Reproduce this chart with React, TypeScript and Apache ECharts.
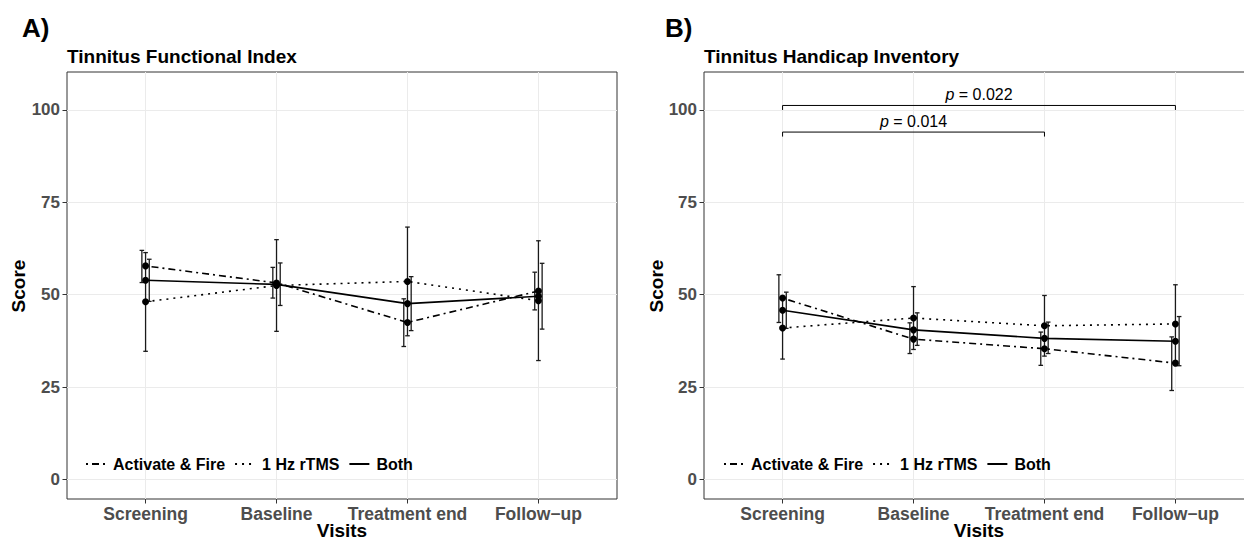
import React, { useEffect, useRef } from 'react';
import * as echarts from 'echarts';

const visits = ['Screening', 'Baseline', 'Treatment end', 'Follow\u2212up'];
const groups = ['Activate & Fire', '1 Hz rTMS', 'Both'];
const yTicks = [0, 25, 50, 75, 100];
const xTicks = [0, 1, 2, 3];

// Panel A: Tinnitus Functional Index (mean, lower, upper)
const tfiAF = [57.8, 53.2, 42.5, 51.0];
const tfiAFLow = [53.3, 49.1, 36.0, 45.9];
const tfiAFHigh = [62.0, 57.4, 48.9, 56.1];
const tfiHz = [48.1, 52.5, 53.6, 48.4];
const tfiHzLow = [34.7, 40.1, 38.9, 32.2];
const tfiHzHigh = [61.4, 64.9, 68.3, 64.6];
const tfiBoth = [53.9, 52.8, 47.6, 49.6];
const tfiBothLow = [48.2, 47.1, 40.3, 40.7];
const tfiBothHigh = [59.6, 58.6, 54.9, 58.5];

// Panel B: Tinnitus Handicap Inventory
const thiAF = [49.1, 38.0, 35.4, 31.5];
const thiAFLow = [42.5, 34.1, 30.9, 24.1];
const thiAFHigh = [55.4, 42.4, 39.9, 38.6];
const thiHz = [41.0, 43.7, 41.6, 42.1];
const thiHzLow = [32.6, 35.2, 33.4, 31.5];
const thiHzHigh = [49.4, 52.2, 49.8, 52.7];
const thiBoth = [45.8, 40.5, 38.2, 37.4];
const thiBothLow = [40.9, 36.3, 34.1, 30.8];
const thiBothHigh = [50.7, 45.1, 42.6, 44.1];

// Significance brackets (panel B)
const bracketFrom = [0, 0];
const bracketTo = [3, 2];
const bracketY = [101.2, 94.0];
const bracketP = ['0.022', '0.014'];

const FONT = '"Liberation Sans", Arial, Helvetica, sans-serif';
const dashTypes: any[] = [[2, 4, 7, 4], [2, 5], 'solid'];

export default function App() {
  const ref = useRef<HTMLDivElement>(null);
  useEffect(() => {
    document.body.style.margin = '0';
    document.body.style.overflow = 'hidden';
    const chart = echarts.init(ref.current!, null, { renderer: 'svg' });

    const panels = [
      { means: [tfiAF, tfiHz, tfiBoth], lows: [tfiAFLow, tfiHzLow, tfiBothLow], highs: [tfiAFHigh, tfiHzHigh, tfiBothHigh] },
      { means: [thiAF, thiHz, thiBoth], lows: [thiAFLow, thiHzLow, thiBothLow], highs: [thiAFHigh, thiHzHigh, thiBothHigh] },
    ];
    const gridLefts = [67, 704];

    const grid = gridLefts.map((l) => ({
      left: l, top: 72, width: 550, height: 427,
      outerBoundsMode: 'none', containLabel: false,
      show: true, borderColor: '#333333', borderWidth: 1, backgroundColor: '#ffffff',
    }));

    const xAxis = gridLefts.map((_, i) => ({
      type: 'value', gridIndex: i, min: -0.6, max: 3.6, position: 'bottom',
      axisLine: { show: false, onZero: false },
      axisTick: { show: true, length: 4.5, lineStyle: { color: '#333333', width: 1 }, customValues: xTicks },
      axisLabel: {
        customValues: xTicks, margin: 6,
        formatter: (v: number) => visits[Math.round(v)] ?? '',
        color: '#4d4d4d', fontWeight: 'bold', fontSize: 17.5, fontFamily: FONT,
      },
      splitLine: { show: true, lineStyle: { color: '#ebebeb', width: 1 } },
    }));

    const yAxis = gridLefts.map((_, i) => ({
      type: 'value', gridIndex: i, min: -5.25, max: 110.25, position: 'left',
      axisLine: { show: false, onZero: false },
      axisTick: { show: true, length: 4.5, lineStyle: { color: '#333333', width: 1 }, customValues: yTicks },
      axisLabel: {
        customValues: yTicks, margin: 7,
        color: '#4d4d4d', fontWeight: 'bold', fontSize: 17, fontFamily: FONT,
      },
      splitLine: { show: true, lineStyle: { color: '#ebebeb', width: 1 } },
    }));

    const series: any[] = [];
    panels.forEach((p, pi) => {
      groups.forEach((g, gi) => {
        series.push({
          type: 'custom', name: 'eb' + pi + gi, xAxisIndex: pi, yAxisIndex: pi, z: 2,
          data: p.means[gi].map((_, i) => [i, p.lows[gi][i], p.highs[gi][i], gi - 1]),
          renderItem: (params: any, api: any) => {
            const x = api.value(0);
            const lo = api.coord([x, api.value(1)]);
            const hi = api.coord([x, api.value(2)]);
            const cx = lo[0] + api.value(3) * 3.7;
            const w = 2.3;
            const st = { stroke: '#1a1a1a', lineWidth: 1.3 };
            return {
              type: 'group',
              children: [
                { type: 'line', shape: { x1: cx, y1: lo[1], x2: cx, y2: hi[1] }, style: st },
                { type: 'line', shape: { x1: cx - w, y1: lo[1], x2: cx + w, y2: lo[1] }, style: st },
                { type: 'line', shape: { x1: cx - w, y1: hi[1], x2: cx + w, y2: hi[1] }, style: st },
              ],
            };
          },
        });
      });
    });
    panels.forEach((p, pi) => {
      groups.forEach((g, gi) => {
        series.push({
          type: 'line', name: g, xAxisIndex: pi, yAxisIndex: pi, z: 3,
          data: p.means[gi].map((v, i) => [i, v]),
          symbol: 'circle', symbolSize: 7,
          itemStyle: { color: '#000000' },
          lineStyle: { color: '#000000', width: 1.6, type: dashTypes[gi] },
        });
      });
    });
    series.push({
      type: 'custom', name: 'brackets', xAxisIndex: 1, yAxisIndex: 1, z: 4,
      data: bracketFrom.map((f, i) => [f, bracketTo[i], bracketY[i]]),
      renderItem: (params: any, api: any) => {
        const a = api.coord([api.value(0), api.value(2)]);
        const b = api.coord([api.value(1), api.value(2)]);
        const st = { stroke: '#000000', lineWidth: 1, fill: null };
        return {
          type: 'group',
          children: [
            { type: 'polyline', shape: { points: [[a[0], a[1] + 4.5], a, b, [b[0], b[1] + 4.5]] }, style: st },
            {
              type: 'text', x: (a[0] + b[0]) / 2, y: a[1] - 3,
              style: {
                text: '{i|p} = ' + bracketP[params.dataIndex],
                align: 'center', verticalAlign: 'bottom',
                fontSize: 16, fontFamily: FONT, fill: '#000000',
                rich: { i: { fontStyle: 'italic', fontSize: 16, fontFamily: FONT } },
              },
            },
          ],
        };
      },
    });

    const legend = [80, 718].map((l) => ({
      data: groups, left: l, top: 451, orient: 'horizontal',
      itemWidth: 20, itemHeight: 14, itemGap: 9,
      selectedMode: false,
      itemStyle: { opacity: 0 },
      textStyle: { fontSize: 16, fontWeight: 'bold', color: '#000000', fontFamily: FONT, padding: [0, 0, 0, 2] },
    }));

    const txt = (x: number, y: number, text: string, size: number, extra: any = {}) => ({
      type: 'text', x, y,
      style: { text, fontSize: size, fontWeight: 'bold', fontFamily: FONT, fill: '#000000', verticalAlign: 'middle', ...extra },
    });

    const graphic = [
      txt(22, 28, 'A)', 26),
      txt(665, 28, 'B)', 26),
      txt(67, 56, 'Tinnitus Functional Index', 19),
      txt(704, 56, 'Tinnitus Handicap Inventory', 19),
      { ...txt(342, 530, 'Visits', 19, { align: 'center' }) },
      { ...txt(979, 530, 'Visits', 19, { align: 'center' }) },
      { ...txt(18, 286, 'Score', 19, { align: 'center' }), rotation: Math.PI / 2 },
      { ...txt(656, 286, 'Score', 19, { align: 'center' }), rotation: Math.PI / 2 },
    ];

    chart.setOption({
      animation: false,
      backgroundColor: '#ffffff',
      textStyle: { fontFamily: FONT },
      grid, xAxis, yAxis, series, legend, graphic,
    });
    return () => chart.dispose();
  }, []);
  return <div ref={ref} style={{ width: 1244, height: 540 }} />;
}
